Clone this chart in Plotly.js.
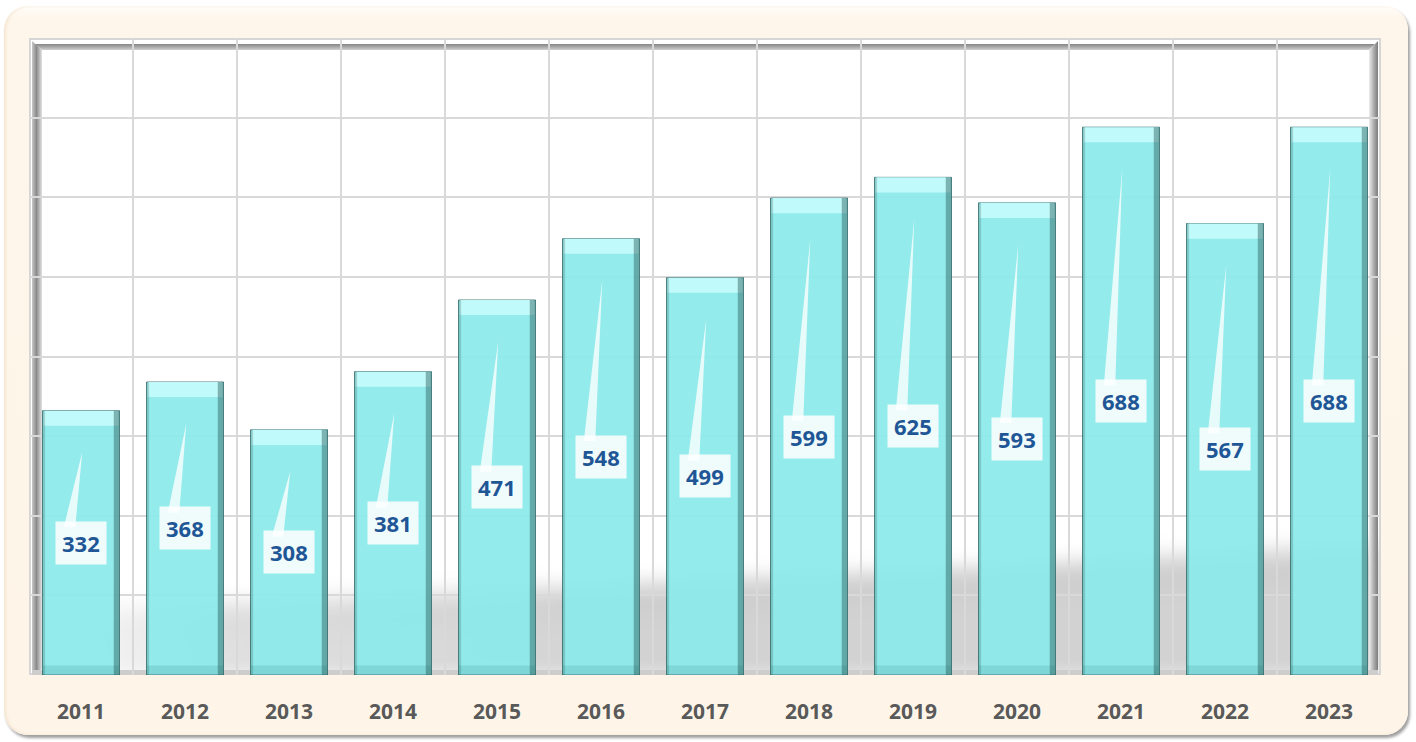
<!DOCTYPE html>
<html>
<head>
<meta charset="utf-8">
<script src="https://cdn.plot.ly/plotly-3.0.1.min.js"></script>
<style>
  html, body { margin: 0; padding: 0; background: #ffffff; }
  #wrap { position: relative; width: 1416px; height: 742px; overflow: hidden; }
  #frame {
    position: absolute; left: 4px; top: 6px; width: 1404px; height: 729px;
    border-radius: 24px;
    background: linear-gradient(#fffdf9 0px, #fef6ea 14px, #fef5e8 100%);
    box-shadow: 2px 3px 3px rgba(0,0,0,0.38), inset 2px 0 3px rgba(230,200,170,0.35);
  }
  #chart { position: absolute; left: 0; top: 0; width: 1416px; height: 742px; }
</style>
</head>
<body>
<div id="wrap">
  <div id="frame"></div>
  <div id="chart"></div>
</div>
<script>
// ---- data ----
const years = ["2011","2012","2013","2014","2015","2016","2017","2018","2019","2020","2021","2022","2023"];
const values = [332, 368, 308, 381, 471, 548, 499, 599, 625, 593, 688, 567, 688];
const yTicks = [0, 100, 200, 300, 400, 500, 600, 700, 800];

// ---- derived positions (through axes) ----
const idx = years.map((_, i) => i);
const capH = values.map(() => 19);
const capBase = values.map(v => v - 19);
const botH = values.map(() => 12);

// wedge callout pointers
const wx = [], wy = [];
values.forEach((v, i) => {
  wx.push(i - 0.165, i - 0.055, i + 0.012, null);
  wy.push(v / 2 + 20, v / 2 + 20, v - 52, null);
});

// plot-area background (3D frame + floor shadow)
const W = 1352, H = 637;
const svg =
`<svg xmlns='http://www.w3.org/2000/svg' width='${W}' height='${H}' viewBox='0 0 ${W} ${H}' preserveAspectRatio='none'>
<defs>
<linearGradient id='t' x1='0' y1='0' x2='0' y2='1'><stop offset='0' stop-color='#858585'/><stop offset='1' stop-color='#cfcfcf'/></linearGradient>
<linearGradient id='l' x1='0' y1='0' x2='1' y2='0'><stop offset='0' stop-color='#c8c8c8'/><stop offset='0.45' stop-color='#8a8a8a'/><stop offset='1' stop-color='#e2e2e2'/></linearGradient>
<linearGradient id='r' x1='0' y1='0' x2='1' y2='0'><stop offset='0' stop-color='#ececec'/><stop offset='0.6' stop-color='#a5a5a5'/><stop offset='1' stop-color='#7d7d7d'/></linearGradient>
<linearGradient id='s' gradientUnits='userSpaceOnUse' x1='0' y1='560' x2='3' y2='620'><stop offset='0' stop-color='#cccccc' stop-opacity='0'/><stop offset='0.5' stop-color='#cccccc' stop-opacity='1'/><stop offset='1' stop-color='#d2d2d2' stop-opacity='1'/></linearGradient>
<linearGradient id='h' x1='0' y1='0' x2='1' y2='0'><stop offset='0' stop-color='#ffffff' stop-opacity='0'/><stop offset='0.15' stop-color='#ffffff' stop-opacity='0.7'/><stop offset='0.45' stop-color='#ffffff' stop-opacity='1'/><stop offset='1' stop-color='#ffffff' stop-opacity='1'/></linearGradient>
<mask id='m'><rect x='0' y='0' width='${W}' height='${H}' fill='url(#h)'/></mask>
<filter id='b' x='-10%' y='-50%' width='120%' height='200%'><feGaussianBlur stdDeviation='8'/></filter>
</defs>
<rect width='${W}' height='${H}' fill='#ffffff'/>
<g mask='url(#m)'><polygon points='40,${H} 40,566 600,540 1000,522 ${W},498 ${W},${H}' fill='url(#s)' filter='url(#b)'/></g>
<rect x='0' y='0' width='${W}' height='${H}' fill='none' stroke='#d6d6d6' stroke-width='4'/>
<polygon points='6,6 ${W-6},6 ${W-12},12 13,12' fill='url(#t)'/>
<polygon points='3,3 13,12 13,${H-6} 3,${H-1}' fill='url(#l)'/>
<polygon points='${W-12},12 ${W-3},3 ${W-3},${H-1} ${W-12},${H-6}' fill='url(#r)'/>
<rect x='3' y='${H-5}' width='${W-6}' height='5' fill='#cdcdcd'/>
</svg>`;
const bgSrc = 'data:image/svg+xml;charset=utf-8,' + encodeURIComponent(svg);

const barCommon = { type: 'bar', x: idx, hoverinfo: 'skip', showlegend: false };

const traces = [
  Object.assign({}, barCommon, {
    y: values, width: 0.74, offset: -0.37,
    marker: { color: 'rgba(140,234,234,0.93)', line: { color: 'rgba(45,95,95,0.75)', width: 1 } }
  }),
  Object.assign({}, barCommon, {
    y: botH, width: 0.74, offset: -0.37,
    marker: { color: 'rgba(60,150,150,0.22)', line: { width: 0 } }
  }),
  Object.assign({}, barCommon, {
    y: capH, base: capBase, width: 0.72, offset: -0.36,
    marker: { color: 'rgba(195,251,251,0.95)', line: { width: 0 } }
  }),
  Object.assign({}, barCommon, {
    y: values, width: 0.055, offset: 0.315,
    marker: { color: 'rgba(30,80,80,0.42)', line: { width: 0 } }
  }),
  Object.assign({}, barCommon, {
    y: values, width: 0.025, offset: -0.37,
    marker: { color: 'rgba(30,80,80,0.22)', line: { width: 0 } }
  }),
  {
    type: 'scatter', x: wx, y: wy, mode: 'lines', fill: 'toself',
    fillcolor: 'rgba(255,255,255,0.78)', line: { width: 0, color: 'rgba(0,0,0,0)' },
    hoverinfo: 'skip', showlegend: false
  },
  {
    type: 'scatter', x: idx, y: values, xaxis: 'x2', mode: 'markers',
    marker: { opacity: 0 }, hoverinfo: 'skip', showlegend: false
  }
];

const annotations = values.map((v, i) => ({
  x: i, y: v / 2, xref: 'x', yref: 'y', text: String(v), showarrow: false,
  font: { family: 'Open Sans, Noto Sans, sans-serif', size: 22, weight: 700, color: '#1F5696' },
  bgcolor: 'rgba(255,255,255,0.86)', borderpad: 6
}));

const layout = {
  width: 1416, height: 742,
  margin: { l: 29, r: 35, t: 38, b: 67 },
  paper_bgcolor: 'rgba(0,0,0,0)',
  plot_bgcolor: '#ffffff',
  barmode: 'overlay',
  showlegend: false,
  xaxis: {
    range: [-0.5, 12.5], tickmode: 'linear', tick0: -0.5, dtick: 1,
    showgrid: true, gridcolor: '#d9d9d9', gridwidth: 2,
    showticklabels: false, ticks: '', zeroline: false, showline: false, fixedrange: true
  },
  xaxis2: {
    overlaying: 'x', matches: 'x', side: 'bottom',
    tickmode: 'array', tickvals: idx, ticktext: years,
    showgrid: false, ticks: '', zeroline: false, showline: false,
    ticklabelstandoff: 22,
    tickfont: { family: 'Open Sans, Noto Sans, sans-serif', size: 21, weight: 700, color: '#595959' }
  },
  yaxis: {
    range: [0, 800], tickmode: 'array', tickvals: yTicks,
    showgrid: true, gridcolor: '#d9d9d9', gridwidth: 2,
    showticklabels: false, ticks: '', zeroline: false, showline: false, fixedrange: true
  },
  images: [{
    source: bgSrc, xref: 'paper', yref: 'paper', x: 0, y: 1, sizex: 1, sizey: 1,
    xanchor: 'left', yanchor: 'top', sizing: 'stretch', layer: 'below'
  }],
  annotations: annotations
};

Plotly.newPlot('chart', traces, layout, { displayModeBar: false, staticPlot: true });
</script>
</body>
</html>
